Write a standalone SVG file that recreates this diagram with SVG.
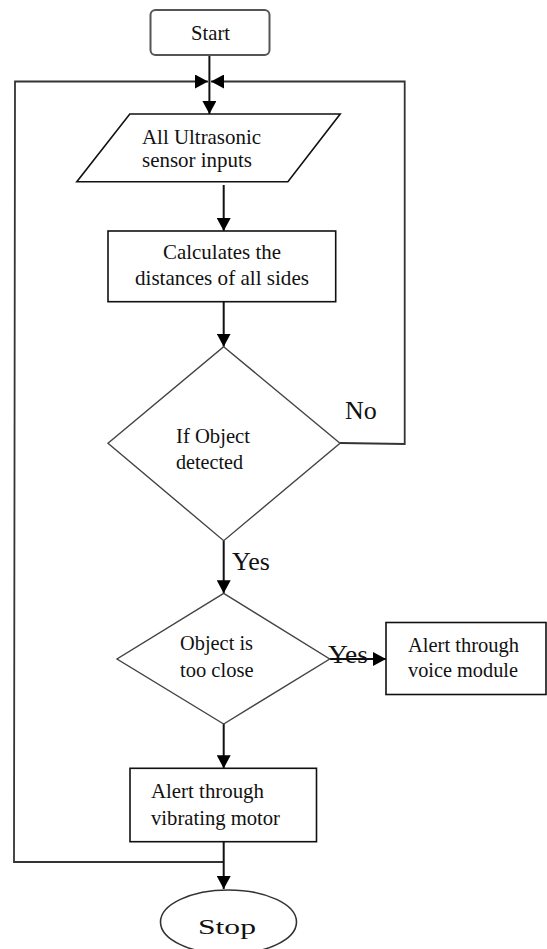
<svg xmlns="http://www.w3.org/2000/svg" width="547" height="949" viewBox="0 0 547 949">
<style>
.t{font-family:"Liberation Serif","Times New Roman",serif;font-size:22px;fill:#111}
.lbl{font-family:"Liberation Serif","Times New Roman",serif;font-size:26px;fill:#111}
.box{fill:#fff;stroke:#111;stroke-width:1.6}
.dia{fill:#fff;stroke:#444;stroke-width:1.4}
.con{fill:none;stroke:#111;stroke-width:2}
.loop{fill:none;stroke:#333;stroke-width:1.8}
</style>
<defs>
<marker id="arr" viewBox="0 0 13 14" refX="13" refY="7" markerWidth="13" markerHeight="14" markerUnits="userSpaceOnUse" orient="auto">
<path d="M0,0 L13,7 L0,14 z" fill="#000"/>
</marker>
</defs>
<rect width="547" height="949" fill="#fff"/>
<g id="connectors">
<line class="con" x1="209.4" y1="55" x2="209.4" y2="114" marker-end="url(#arr)"/>
<polyline class="loop" points="224,862 14,862 15,81.5 208,81.5" marker-end="url(#arr)"/>
<polyline class="loop" points="340,443 404.7,444 404.7,81.5 211,81.5" marker-end="url(#arr)"/>
<line class="con" x1="223.7" y1="185" x2="223.7" y2="231" marker-end="url(#arr)"/>
<line class="con" x1="223.7" y1="301.7" x2="223.7" y2="346.7" marker-end="url(#arr)"/>
<line class="con" x1="223.7" y1="540.7" x2="223.7" y2="593.3" marker-end="url(#arr)"/>
<line class="con" x1="329.7" y1="659" x2="386" y2="659" marker-end="url(#arr)"/>
<line class="con" x1="223.7" y1="724" x2="223.7" y2="768.3" marker-end="url(#arr)"/>
<line class="con" x1="223.7" y1="841.7" x2="223.7" y2="889" marker-end="url(#arr)"/>
<text class="lbl" x="345" y="419">No</text>
<text class="lbl" x="232" y="570" font-size="25">Yes</text>
<text class="lbl" x="328" y="663" font-size="23" textLength="40" lengthAdjust="spacingAndGlyphs">Yes</text>
</g>
<g id="start">
<rect x="150.5" y="10" width="119" height="45" rx="5" fill="#fff" stroke="#555" stroke-width="2"/>
<text class="t" x="191" y="39.5" font-size="21" textLength="39" lengthAdjust="spacingAndGlyphs">Start</text>
</g>
<g id="input">
<polygon class="box" points="129.8,114 340.2,114 287.9,181.7 76.8,181.7"/>
<text class="t" x="142" y="144" textLength="119" lengthAdjust="spacingAndGlyphs">All Ultrasonic</text>
<text class="t" x="142" y="167" textLength="110" lengthAdjust="spacingAndGlyphs">sensor inputs</text>
</g>
<g id="calculate">
<rect class="box" x="108" y="231" width="227.7" height="70.7"/>
<text class="t" x="163" y="259.3" textLength="118" lengthAdjust="spacingAndGlyphs">Calculates the</text>
<text class="t" x="135" y="285" textLength="174" lengthAdjust="spacingAndGlyphs">distances of all sides</text>
</g>
<g id="detect">
<polygon class="dia" points="223.7,346.7 340,443.3 223.7,540.7 108,443.3"/>
<text class="t" x="176" y="443.3" textLength="74" lengthAdjust="spacingAndGlyphs">If Object</text>
<text class="t" x="176" y="469" textLength="67" lengthAdjust="spacingAndGlyphs">detected</text>
</g>
<g id="tooclose">
<polygon class="dia" points="223.7,593.3 329.7,659 223.7,724 117,659"/>
<text class="t" x="180" y="650" textLength="73" lengthAdjust="spacingAndGlyphs">Object is</text>
<text class="t" x="180" y="677.3" textLength="73.5" lengthAdjust="spacingAndGlyphs">too close</text>
</g>
<g id="voice">
<rect class="box" x="386" y="622.5" width="160" height="72"/>
<text class="t" x="408" y="651.7" textLength="111" lengthAdjust="spacingAndGlyphs">Alert through</text>
<text class="t" x="408" y="676.7" textLength="110" lengthAdjust="spacingAndGlyphs">voice module</text>
</g>
<g id="vibrate">
<rect class="box" x="130" y="768.3" width="186.5" height="73.4"/>
<text class="t" x="151" y="798" textLength="113" lengthAdjust="spacingAndGlyphs">Alert through</text>
<text class="t" x="151" y="825" textLength="129" lengthAdjust="spacingAndGlyphs">vibrating motor</text>
</g>
<g id="stop">
<ellipse cx="228.5" cy="922" rx="68" ry="32" fill="#fff" stroke="#333" stroke-width="1.6"/>
<text class="t" x="198" y="934" font-size="29" textLength="58" lengthAdjust="spacingAndGlyphs">Stop</text>
</g>
</svg>
